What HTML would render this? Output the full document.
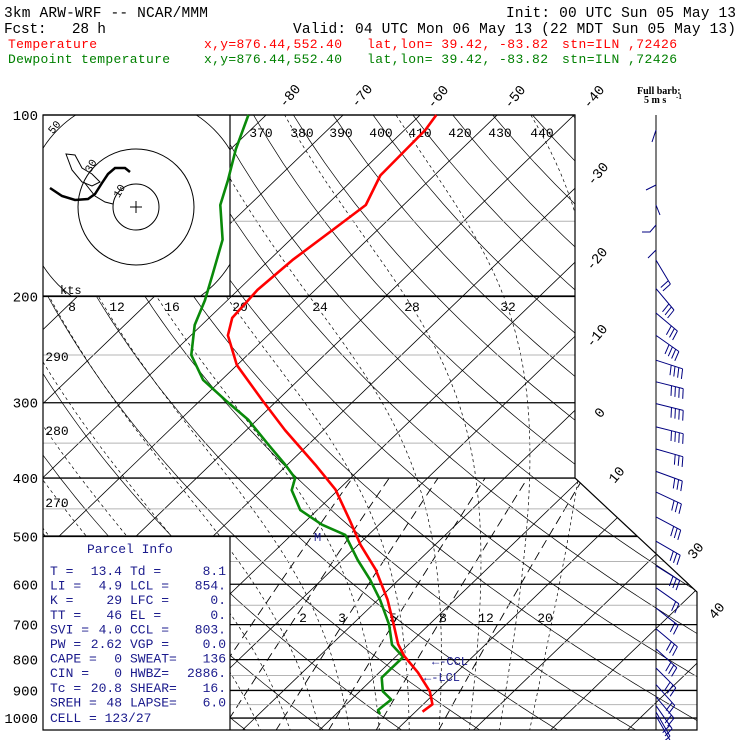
<!DOCTYPE html>
<html><head><meta charset="utf-8"><style>
html,body{margin:0;padding:0;background:#fff;}
svg{display:block;font-family:"Liberation Mono",monospace;}
</style></head><body>
<svg id="chart" width="740" height="740" viewBox="0 0 740 740" xmlns="http://www.w3.org/2000/svg">
<defs>
<clipPath id="plotclip"><path d="M230,115 L575,115 L575,478 L697,592 L697,730 L230,730 L230,536 L43,536 L43,296 L230,296 Z"/></clipPath>
<clipPath id="hodoclip"><rect x="43" y="115" width="187" height="181"/></clipPath>
</defs>
<g id="header" font-size="14.5">
<text x="4" y="17" textLength="204">3km ARW-WRF -- NCAR/MMM</text>
<text x="506" y="17" textLength="230">Init: 00 UTC Sun 05 May 13</text>
<text x="4" y="33" textLength="102" xml:space="preserve">Fcst:   28 h</text>
<text x="293" y="33" textLength="443">Valid: 04 UTC Mon 06 May 13 (22 MDT Sun 05 May 13)</text>
</g>
<g font-size="13" fill="#ff0000">
<text x="8" y="48" textLength="89">Temperature</text>
<text x="204" y="48" textLength="138">x,y=876.44,552.40</text>
<text x="367" y="48" textLength="181">lat,lon= 39.42, -83.82</text>
<text x="562" y="48" textLength="115">stn=ILN ,72426</text>
</g>
<g font-size="13" fill="#008000">
<text x="8" y="63" textLength="162">Dewpoint temperature</text>
<text x="204" y="63" textLength="138">x,y=876.44,552.40</text>
<text x="367" y="63" textLength="181">lat,lon= 39.42, -83.82</text>
<text x="562" y="63" textLength="115">stn=ILN ,72426</text>
</g>
<g id="grid" clip-path="url(#plotclip)"></g>
<g id="plines"></g>
<g id="frame" fill="none" stroke="#000" stroke-width="1.2">
<path d="M43,115 L575,115 L575,478 L697,592 L697,730 L43,730 Z"/>
<path d="M230,115 L230,296 M43,296 L575,296 M43,536 L637,536 M230,536 L230,730"/>
<line x1="656" y1="115" x2="656" y2="730" stroke-width="1"/>
</g>
<g id="hodo" clip-path="url(#hodoclip)" fill="none" stroke="#000" stroke-width="1">
<circle cx="136" cy="207" r="23"/>
<circle cx="136" cy="207" r="58"/>
<circle cx="136" cy="207" r="110" stroke-width="0.8"/>
<path d="M130,207 H142 M136,201 V213"/>
<path d="M50,188 L62,196 L75,200 L88,199 L95,194 L102,183 L108,174 L115,168 L125,168 L130,172" stroke-width="2.5"/>
<path d="M66,154 L75,155 L82,168 L92,174 L100,182 L92,186 L82,182 L72,170 Z" stroke-width="1"/>
<path d="M84,182 L95,196 L105,202 L113,204" stroke-width="1"/>
<text x="60" y="294" font-size="12" fill="#000" stroke="none">kts</text>
<text x="113" y="196" font-size="11" fill="#000" stroke="none" transform="rotate(-60 118 192)">10</text>
<text x="84" y="170" font-size="11" fill="#000" stroke="none" transform="rotate(-60 90 166)">30</text>
<text x="46" y="132" font-size="11" fill="#000" stroke="none" transform="rotate(-50 52 126)">50</text>
</g>
<g id="labels" font-size="13" fill="#000"></g>
<g id="traces"></g>
<g id="barbs" stroke="#000080" stroke-width="1" fill="none"></g>
<g font-family="Liberation Serif,serif" font-weight="bold" font-size="10" fill="#000">
<text x="637" y="94">Full barb:</text>
<text x="644" y="103">5 m s</text><text x="676" y="99" font-size="7">-1</text>
</g>
<g id="parcel" fill="#1a1a8c" font-size="13"></g>
<g fill="#1a1a8c" font-size="12">
<text x="314" y="541">M</text>
<text x="432" y="665">&#8592;-CCL</text>
<text x="424" y="681">&#8592;-LCL</text>
</g>
</svg>
<script>
// ---- data ----
const tempP = [100,105.9,126,141,156,174,195,217,232,260,297,333,380,418,469,516,567,636,700,754,789,840,903,949,976];
const tempC = [-57.9,-57.3,-57.0,-54.9,-55.9,-57.0,-57.5,-57.0,-55.2,-50.0,-42.0,-35.0,-26.4,-20.4,-14.5,-9.7,-4.4,1.2,5.4,8.6,11.0,15.0,19.1,21.2,20.9];
const dewP = [100,114,128,141,161,184,203,223,250,275,297,320,352,380,400,419,452,478,497,547,590,637,700,756,792,828,857,903,932,970,985];
const dewC = [-82.3,-79.3,-76.2,-73.8,-68.8,-65.4,-62.9,-60.9,-57.3,-52.4,-46.8,-41.2,-35.2,-30.3,-27.2,-26.0,-22.2,-17.4,-13.0,-8.0,-3.7,0.3,4.8,7.9,11.0,11.0,11.0,13.0,15.2,14.9,15.7];
const windP = [174,194,213,232,255,277,301,329,358,390,422,464,509,559,608,657,711,768,826,880,922,954,977,992];
const windSpd = [10,15,15,20,20,20,20,20,15,15,15,15,15,15,10,10,15,15,15,10,10,10,5,5];
const windDir = [149,140,130,125,108,104,104,104,106,110,115,118,120,122,125,128,130,132,135,138,140,145,150,150];
const isoT = [-120,-110,-100,-90,-80,-70,-60,-50,-40,-30,-20,-10,0,10,20,30,40,50];
const thetaK = [250,260,270,280,290,300,310,320,330,340,350,360,370,380,390,400,410,420,430,440,450,460,470,480];
const moistStart = [-8,-4,0,4,8,12,16,20,24,28,32,36];
const mixW = [2,3,5,8,12,20];
const pLevels = [100,200,300,400,500,600,700,800,900,1000];
const pMinor = [150,250,350,450,550,650,750,850,950];

// ---- axes ----
function Y(p){return 115+261.9*Math.log(p/100);}
function X(T,p){return 255+7.7*T+1.04*(718-Y(p));}
const NS="http://www.w3.org/2000/svg";
function mk(tag,parent,attrs){const e=document.createElementNS(NS,tag);for(const k in attrs)e.setAttribute(k,attrs[k]);parent.appendChild(e);return e;}
function pts(arr){return arr.map(a=>a[0].toFixed(1)+","+a[1].toFixed(1)).join(" ");}
const grid=document.getElementById('grid');

isoT.forEach(T=>{
 const el=mk('polyline',grid,{points:pts([[X(T,1100),Y(1100)],[X(T,90),Y(90)]]),fill:'none',stroke:'#000','stroke-width':0.8});
 
 
});
thetaK.forEach(th=>{
 const a=[];for(let p=1100;p>=90;p-=10){const T=th*Math.pow(p/1000,0.286)-273.15;a.push([X(T,p),Y(p)]);}
 const el=mk('polyline',grid,{points:pts(a),fill:'none',stroke:'#000','stroke-width':0.7});
 
 
});
function es(Tc){return 6.112*Math.exp(17.67*Tc/(Tc+243.5));}
function lapse(T,p){const Rd=287,cp=1004,L=2.5e6,eps=0.622;const e=es(T-273.15);const rs=eps*e/(p-e);
 return ((Rd*T+L*rs)/(cp+L*L*rs*eps/(Rd*T*T)))/p;}
function moistPath(T0){
 const a=[];let T=T0+273.15;
 let Tk=T; const down=[];
 for(let p=1000;p<=1100;p+=5){down.push([X(Tk-273.15,p),Y(p)]);Tk+=lapse(Tk,p)*5;}
 for(let p=1000;p>=100;p-=5){a.push([X(T-273.15,p),Y(p)]);T-=lapse(T,p)*5;}
 return down.reverse().concat(a);
}
moistStart.forEach(T0=>{
 const el=mk('polyline',grid,{points:pts(moistPath(T0)),fill:'none',stroke:'#000','stroke-width':0.7,'stroke-dasharray':'3,3'});
 
 
});
function tdOf(w,p){const e=w*p/(622+w);const l=Math.log(e/6.112);return 243.5*l/(17.67-l);}
mixW.forEach(w=>{
 const a=[];for(let p=1100;p>=400;p-=20)a.push([X(tdOf(w,p),p),Y(p)]);
 const el=mk('polyline',grid,{points:pts(a),fill:'none',stroke:'#000','stroke-width':0.9,'stroke-dasharray':'9,5'});
 
 
});
const pl=document.getElementById('plines');
function rightEdge(y){if(y<=478)return 575;if(y>=592)return 697;return 575+(y-478)/0.934;}
pLevels.forEach(p=>{
 const y=Y(p);const x0=p>=600?230:43;
 const el=mk('line',pl,{x1:x0,y1:y,x2:rightEdge(y),y2:y,stroke:'#000','stroke-width':1.3});
 
 
 const t=mk('text',pl,{x:38,y:y+5,'text-anchor':'end','font-size':14,fill:'#000'});t.textContent=p;
 
 
});
pMinor.forEach(p=>{
 const y=Y(p);const x0=(p<200||p>500)?230:43;
 const el=mk('line',pl,{x1:x0,y1:y,x2:rightEdge(y),y2:y,stroke:'#b4b4b4','stroke-width':1});
 
 
});
const lab=document.getElementById('labels');
function txt(s,x,y,rot,fs){const t=mk('text',lab,{x:x,y:y,'text-anchor':'middle'});if(fs)t.setAttribute('font-size',fs);if(rot)t.setAttribute('transform','rotate('+rot+' '+x+' '+(y-4)+')');t.textContent=s;
 
 }
[['-80',290,100],['-70',362,100],['-60',438,101],['-50',515,101],['-40',594,101],['-30',598,178],['-20',597,263],['-10',597,340],['0',600,417],['10',617,479],['30',696,555],['40',717,615]].forEach(a=>txt(a[0],a[1],a[2],-50,14));
[['370',261],['380',302],['390',341],['400',381],['410',420],['420',460],['430',500],['440',542]].forEach(a=>txt(a[0],a[1],137,0,13));
[['8',72],['12',117],['16',172],['20',240],['24',320],['28',412],['32',508]].forEach(a=>txt(a[0],a[1],311,0,13));
[['290',57,361],['280',57,435],['270',57,507]].forEach(a=>txt(a[0],a[1],a[2],0,13));
[['2',303],['3',342],['5',393],['8',443],['12',486],['20',545]].forEach(a=>txt(a[0],a[1],622,0,13));
const tr=document.getElementById('traces');
function trace(P,T,col,name){const el=mk('polyline',tr,{points:pts(P.map((p,i)=>[X(T[i],p),Y(p)])),fill:'none',stroke:col,'stroke-width':2.6,'stroke-linejoin':'round'});
 
 }
trace(dewP,dewC,'#0a8a0a','dewpoint-trace');
trace(tempP,tempC,'#ff0000','temperature-trace');
const bg=document.getElementById('barbs');
windP.forEach((p,i)=>{
 const y=Y(p),x=656,d=windDir[i]*Math.PI/180;const ux=Math.sin(d),uy=-Math.cos(d);const L=28;
 const ex=x+ux*L,ey=y+uy*L;let s='M'+x+','+y.toFixed(1)+' L'+ex.toFixed(1)+','+ey.toFixed(1);
 const n=Math.round(windSpd[i]/5);const px=-uy,py=ux;
 for(let k=0;k<n;k++){const bx=ex-ux*4*k,by=ey-uy*4*k;s+=' M'+bx.toFixed(1)+','+by.toFixed(1)+' L'+(bx+px*10+ux*2).toFixed(1)+','+(by+py*10+uy*2).toFixed(1);}
 const el=mk('path',bg,{d:s});
 
 
});
mk('path',bg,{d:'M656,130 L652,142 M656,185 L646,190 M656,205 L660,215 M656,225 L650,232 L642,232 M656,250 L648,258'});
const pg=document.getElementById('parcel');
const rows=[['T  =','13.4','Td =','8.1'],['LI =','4.9','LCL =','854.'],['K  =','29','LFC =','0.'],['TT =','46','EL  =','0.'],['SVI =','4.0','CCL =','803.'],['PW =','2.62','VGP =','0.0'],['CAPE =','0','SWEAT=','136'],['CIN =','0','HWBZ=','2886.'],['Tc =','20.8','SHEAR=','16.'],['SREH =','48','LAPSE=','6.0']];
function pt(s,x,y,anchor){const t=mk('text',pg,{x:x,y:y,'text-anchor':anchor||'start','xml:space':'preserve'});t.textContent=s;
 
 }
pt('Parcel Info',87,553);
rows.forEach((r,i)=>{const y=575+i*14.6;pt(r[0],50,y);pt(r[1],122,y,'end');pt(r[2],130,y);pt(r[3],226,y,'end');});
pt('CELL = 123/27',50,722);
</script>
</body></html>
